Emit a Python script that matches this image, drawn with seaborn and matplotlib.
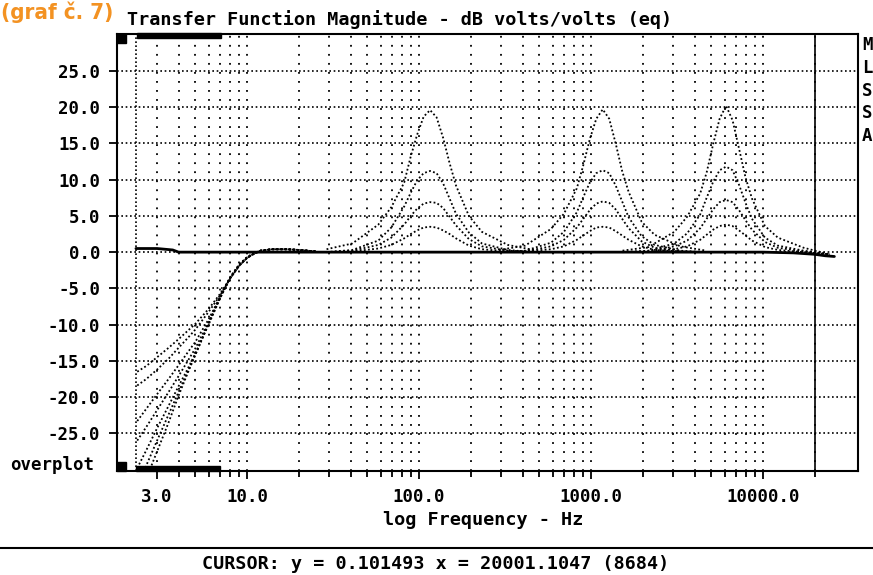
import numpy as np
import pandas as pd
import matplotlib
matplotlib.use("Agg")
import matplotlib.pyplot as plt
import seaborn as sns
from matplotlib.ticker import FixedLocator, FixedFormatter, NullFormatter
from matplotlib.patches import Rectangle
from matplotlib.lines import Line2D

# ---------------- data ----------------
# peaking-filter curves: frequencies (Hz) around each centre and gains (dB)
P1_FREQ = [29, 41, 58, 69, 82, 89.5, 97.5, 106.4, 116, 126.5, 138, 150.5, 164, 195, 232, 328, 464]
P1_20 = [0.4, 1.2, 3.8, 6.2, 9.6, 13.2, 16.2, 18.7, 19.6, 18.6, 15.8, 12.3, 9.2, 5.0, 2.8, 1.0, 0.3]
P1_11 = [0.0, 0.3, 1.6, 3.4, 6.3, 8.2, 9.9, 10.9, 11.2, 10.9, 9.5, 7.4, 5.3, 2.7, 1.2, 0.3, 0.0]
P1_7 = [0.0, 0.2, 1.0, 2.0, 3.8, 5.0, 6.0, 6.7, 6.9, 6.8, 6.1, 4.9, 3.7, 1.8, 0.8, 0.2, 0.0]
P1_3 = [0.0, 0.1, 0.5, 1.0, 1.9, 2.5, 3.0, 3.4, 3.5, 3.4, 3.0, 2.5, 1.9, 0.9, 0.4, 0.1, 0.0]

P2_FREQ = [292, 414, 585, 696, 827, 902, 984, 1073, 1170, 1276, 1391, 1517, 1655, 1968, 2340, 3309, 4680]
P2_20 = [0.3, 0.9, 3.2, 5.3, 8.8, 12.0, 15.6, 18.4, 19.7, 18.4, 15.0, 11.2, 8.3, 4.2, 2.4, 0.8, 0.2]
P2_11 = [0.0, 0.2, 1.3, 2.8, 5.5, 7.6, 9.6, 10.9, 11.3, 10.9, 9.2, 7.0, 4.8, 2.2, 1.0, 0.2, 0.0]
P2_7 = [0.0, 0.1, 0.8, 1.7, 3.4, 4.6, 5.8, 6.7, 7.0, 6.8, 5.9, 4.6, 3.3, 1.5, 0.6, 0.1, 0.0]
P2_3 = [0.0, 0.1, 0.4, 0.8, 1.7, 2.3, 2.9, 3.4, 3.5, 3.4, 2.9, 2.3, 1.7, 0.8, 0.3, 0.1, 0.0]

P3_FREQ = [1525, 2157, 3050, 3627, 4313, 4703, 5130, 5594, 6100, 6653, 7253, 7912, 8626, 10260, 12200, 17250, 24400]
P3_20 = [0.2, 0.7, 2.8, 4.9, 8.1, 11.0, 14.9, 18.4, 20.2, 18.2, 14.3, 10.3, 7.4, 3.6, 2.0, 0.6, -0.3]
P3_11 = [0.0, 0.2, 1.2, 2.6, 5.2, 7.5, 9.7, 11.3, 11.8, 11.3, 9.3, 6.8, 4.6, 2.0, 0.9, 0.2, -0.3]
P3_7 = [0.0, 0.1, 0.8, 1.6, 3.3, 4.6, 5.9, 6.9, 7.2, 6.9, 5.8, 4.4, 3.1, 1.4, 0.6, 0.1, -0.3]
P3_3 = [0.0, 0.1, 0.4, 0.8, 1.7, 2.4, 3.1, 3.6, 3.8, 3.6, 3.0, 2.3, 1.6, 0.7, 0.3, 0.0, -0.3]

# high-pass curves
HP_FREQ = [2.3, 2.6, 3.0, 3.5, 4.0, 4.5, 5.0, 6.0, 7.0, 8.0, 9.0, 10.0, 11.0, 12.0, 14.0, 17.0, 20.0, 25.0]
HP_A = [-16.5, -15.7, -14.5, -13.2, -12.0, -10.9, -9.9, -7.8, -5.7, -3.6, -1.9, -0.8, -0.2, 0.2, 0.4, 0.4, 0.3, 0.1]
HP_B = [-18.4, -17.5, -16.2, -14.7, -13.2, -11.9, -10.7, -8.2, -5.9, -3.6, -1.9, -0.8, -0.2, 0.2, 0.4, 0.4, 0.3, 0.1]
HP_C = [-23.3, -21.6, -19.6, -17.5, -15.6, -13.9, -12.4, -9.2, -6.1, -3.5, -1.8, -0.8, -0.2, 0.2, 0.4, 0.4, 0.3, 0.1]
HP_D = [-26.0, -24.1, -21.8, -19.3, -17.1, -15.1, -13.3, -9.6, -6.2, -3.5, -1.8, -0.8, -0.2, 0.2, 0.4, 0.4, 0.3, 0.1]
HP_E = [-29.8, -27.3, -24.3, -21.2, -18.5, -16.2, -14.0, -9.9, -6.3, -3.5, -1.8, -0.7, -0.2, 0.2, 0.4, 0.4, 0.3, 0.1]
HP_F = [-33.0, -29.4, -26.0, -22.4, -19.3, -16.6, -14.2, -9.8, -6.2, -3.5, -1.8, -0.7, -0.2, 0.2, 0.4, 0.4, 0.3, 0.1]
HP_G = [-36.0, -31.2, -27.5, -23.5, -19.8, -16.8, -14.2, -9.7, -6.0, -3.4, -1.7, -0.7, -0.1, 0.2, 0.4, 0.4, 0.3, 0.1]

# flat (reference) response
FLAT_FREQ = [2.26, 3.0, 3.7, 4.0, 10.0, 100.0, 1000.0, 10000.0, 15000.0, 20000.0, 23000.0, 26000.0]
FLAT_DB = [0.5, 0.5, 0.3, 0.0, 0.0, 0.0, 0.0, 0.0, -0.1, -0.3, -0.5, -0.6]

X_MAJOR = [3, 10, 100, 1000, 10000]
X_MAJOR_LABELS = ["3.0", "10.0", "100.0", "1000.0", "10000.0"]
X_MINOR = [4, 5, 6, 7, 8, 9, 20, 30, 40, 50, 60, 70, 80, 90,
           200, 300, 400, 500, 600, 700, 800, 900,
           2000, 3000, 4000, 5000, 6000, 7000, 8000, 9000, 20000]
Y_TICKS = [-25, -20, -15, -10, -5, 0, 5, 10, 15, 20, 25]
Y_LABELS = ["-25.0", "-20.0", "-15.0", "-10.0", "-5.0", "0.0", "5.0", "10.0", "15.0", "20.0", "25.0"]
SWEEP_START_HZ = 2.26
CURSOR_X = 20001.1047
CURSOR_TEXT = "CURSOR: y = 0.101493 x = 20001.1047 (8684)"
SIDE_LETTERS = ["M", "L", "S", "S", "A"]

# ---------------- build table ----------------
curves = {
    "p1_20": (P1_FREQ, P1_20), "p1_11": (P1_FREQ, P1_11), "p1_7": (P1_FREQ, P1_7), "p1_3": (P1_FREQ, P1_3),
    "p2_20": (P2_FREQ, P2_20), "p2_11": (P2_FREQ, P2_11), "p2_7": (P2_FREQ, P2_7), "p2_3": (P2_FREQ, P2_3),
    "p3_20": (P3_FREQ, P3_20), "p3_11": (P3_FREQ, P3_11), "p3_7": (P3_FREQ, P3_7), "p3_3": (P3_FREQ, P3_3),
    "hpA": (HP_FREQ, HP_A), "hpB": (HP_FREQ, HP_B), "hpC": (HP_FREQ, HP_C), "hpD": (HP_FREQ, HP_D),
    "hpE": (HP_FREQ, HP_E), "hpF": (HP_FREQ, HP_F), "hpG": (HP_FREQ, HP_G),
}
rows = []
for name, (fr, db) in curves.items():
    for f, d in zip(fr, db):
        rows.append((name, f, d))
df = pd.DataFrame(rows, columns=["curve", "freq", "db"])
flat = pd.DataFrame({"freq": FLAT_FREQ, "db": FLAT_DB})

# ---------------- plot ----------------
sns.set_theme(style="white")
plt.rcParams["font.family"] = ["DejaVu Sans Mono", "DejaVu Sans"]
plt.rcParams["font.weight"] = "bold"

fig = plt.figure(figsize=(8.73, 5.75), dpi=100)
ax = fig.add_axes([117 / 873, 104 / 575, 741 / 873, 437 / 575])
ax.set_xscale("log")
ax.set_xlim(1.754, 35670)
ax.set_ylim(-30.2, 30.1)

# grid
ax.xaxis.set_major_locator(FixedLocator(X_MAJOR))
ax.xaxis.set_major_formatter(FixedFormatter(X_MAJOR_LABELS))
ax.xaxis.set_minor_locator(FixedLocator(X_MINOR))
ax.xaxis.set_minor_formatter(NullFormatter())
ax.yaxis.set_major_locator(FixedLocator(Y_TICKS))
ax.yaxis.set_major_formatter(FixedFormatter(Y_LABELS))
ax.grid(axis="x", which="both", color="black", linestyle=(0, (1, 4)), linewidth=1.3)
ax.grid(axis="y", which="major", color="black", linestyle=(0, (1, 1.6)), linewidth=1.2)
ax.axvline(SWEEP_START_HZ, color="black", linestyle=(0, (1, 1.4)), linewidth=1.2)

# curves
sns.lineplot(data=df, x="freq", y="db", units="curve", estimator=None, sort=False,
             color="black", linestyle=(0, (1, 1.3)), linewidth=1.3, ax=ax, legend=False)
sns.lineplot(data=flat, x="freq", y="db", estimator=None, sort=False,
             color="black", linewidth=2.0, ax=ax, legend=False)
ax.axvline(CURSOR_X, color="black", linewidth=1.2)

ax.set_xlabel("")
ax.set_ylabel("")
for s in ax.spines.values():
    s.set_color("black")
    s.set_linewidth(1.5)

ax.tick_params(axis="x", which="major", direction="out", length=6, width=1.3, pad=6,
               labelsize=12.5, colors="black", bottom=True)
ax.tick_params(axis="x", which="minor", direction="out", length=4, width=1.3, bottom=True, colors="black")
ax.tick_params(axis="y", which="major", direction="out", length=6, width=1.3, pad=6,
               labelsize=12.5, colors="black", left=True)
for lab in ax.get_xticklabels() + ax.get_yticklabels():
    lab.set_fontweight("bold")

# scope markers (black squares and bars)
ax.add_patch(Rectangle((0, 1 - 9 / 437), 9 / 741, 9 / 437, transform=ax.transAxes,
                       color="black", clip_on=False, zorder=5))
ax.add_patch(Rectangle((0, 0), 9 / 741, 9 / 437, transform=ax.transAxes,
                       color="black", clip_on=False, zorder=5))
ax.add_patch(Rectangle((20 / 741, 1 - 4 / 437), 84 / 741, 5 / 437, transform=ax.transAxes,
                       color="black", clip_on=False, zorder=5))
ax.add_patch(Rectangle((19 / 741, 0), 84 / 741, 5 / 437, transform=ax.transAxes,
                       color="black", clip_on=False, zorder=5))

# texts
fig.text(400 / 873, 1 - 20 / 575, "Transfer Function Magnitude - dB volts/volts (eq)",
         ha="center", va="center", fontsize=13.3, fontweight="bold", color="black")
fig.text(483 / 873, 1 - 520 / 575, "log Frequency - Hz", ha="center", va="center",
         fontsize=13.3, fontweight="bold", color="black")
fig.text(10 / 873, 1 - 465 / 575, "overplot", ha="left", va="center",
         fontsize=12.5, fontweight="bold", color="black")
for i, letter in enumerate(SIDE_LETTERS):
    fig.text(862 / 873, 1 - (45 + i * 22.8) / 575, letter, ha="left", va="center",
             fontsize=12.5, fontweight="bold", color="black")
fig.text(1 / 873, 1 - 12 / 575, "(graf č. 7)", ha="left", va="center", fontsize=16,
         fontweight="bold", color="#F39222", family=["DejaVu Sans"], fontstretch="condensed")
fig.add_artist(Line2D([0, 1], [1 - 548 / 575, 1 - 548 / 575], transform=fig.transFigure,
                      color="black", linewidth=1.5))
fig.text(436 / 873, 1 - 564 / 575, CURSOR_TEXT, ha="center", va="center",
         fontsize=13.2, fontweight="bold", color="black")

fig.savefig("out.png", dpi=100, facecolor="white")
